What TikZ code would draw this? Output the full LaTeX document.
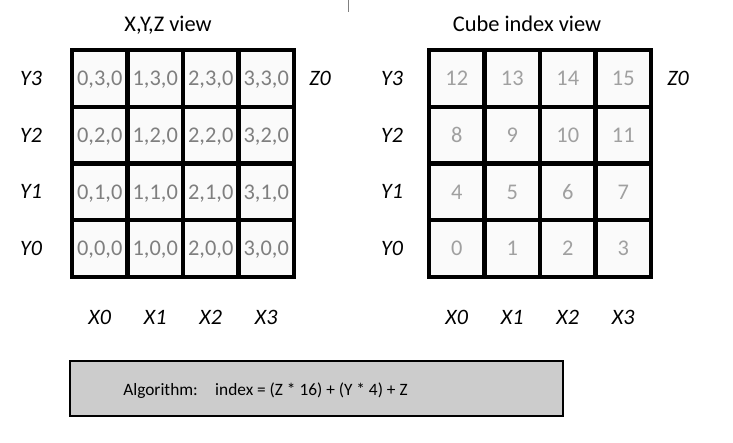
\documentclass[tikz,border=0pt]{standalone}
\usepackage{fontspec}
\setmainfont{Carlito}
\definecolor{coordgrey}{HTML}{7F7F7F}
\definecolor{idxgrey}{HTML}{A0A0A0}
\definecolor{boxgrey}{HTML}{CCCCCC}
\begin{document}
\begin{tikzpicture}[x=0.75pt, y=-0.75pt,
    cell/.style={draw, line width=3.2pt, fill=black!2, minimum width=41.6pt,
      minimum height=42.56pt, inner sep=0pt, text depth=0pt,
      font=\fontsize{16.8}{19}\selectfont},
    coord/.style={cell, text=coordgrey},
    idx/.style={cell, text=idxgrey},
    axis/.style={text depth=0pt, font=\fontsize{16.5}{19}\selectfont\itshape},
    title/.style={anchor=base, font=\fontsize{16.8}{19}\selectfont},
  ]
    \useasboundingbox (0,0) rectangle (733,443);
    \draw[gray, line width=0.75pt] (348,0) coordinate (tick) -- (348,12);

    % X,Y,Z view
    \node[title] (ttlxyz) at (168,31) {X,Y,Z view};
    \node[coord] (p03) at (99.75,78.375)  {0,3,0};
    \node[coord] (p13) at (155.25,78.375) {1,3,0};
    \node[coord] (p23) at (210.75,78.375) {2,3,0};
    \node[coord] (p33) at (266.25,78.375) {3,3,0};
    \node[coord] (p02) at (99.75,135.125)  {0,2,0};
    \node[coord] (p12) at (155.25,135.125) {1,2,0};
    \node[coord] (p22) at (210.75,135.125) {2,2,0};
    \node[coord] (p32) at (266.25,135.125) {3,2,0};
    \node[coord] (p01) at (99.75,191.875)  {0,1,0};
    \node[coord] (p11) at (155.25,191.875) {1,1,0};
    \node[coord] (p21) at (210.75,191.875) {2,1,0};
    \node[coord] (p31) at (266.25,191.875) {3,1,0};
    \node[coord] (p00) at (99.75,248.625)  {0,0,0};
    \node[coord] (p10) at (155.25,248.625) {1,0,0};
    \node[coord] (p20) at (210.75,248.625) {2,0,0};
    \node[coord] (p30) at (266.25,248.625) {3,0,0};

    \node[axis] (ly3) at (31,78.375)  {Y3};
    \node[axis] (ly2) at (31,135.125) {Y2};
    \node[axis] (ly1) at (31,191.875) {Y1};
    \node[axis] (ly0) at (31,248.625) {Y0};
    \node[axis] (lz0) at (320,78.375) {Z0};
    \node[axis] (lx0) at (99.75,317)  {X0};
    \node[axis] (lx1) at (155.25,317) {X1};
    \node[axis] (lx2) at (210.75,317) {X2};
    \node[axis] (lx3) at (266.25,317) {X3};

    % Cube index view
    \node[title] (ttlidx) at (527,31) {Cube index view};
    \node[idx] (c12) at (456.75,78.375) {12};
    \node[idx] (c13) at (512.25,78.375) {13};
    \node[idx] (c14) at (567.75,78.375) {14};
    \node[idx] (c15) at (623.25,78.375) {15};
    \node[idx] (c8)  at (456.75,135.125) {8};
    \node[idx] (c9)  at (512.25,135.125) {9};
    \node[idx] (c10) at (567.75,135.125) {10};
    \node[idx] (c11) at (623.25,135.125) {11};
    \node[idx] (c4)  at (456.75,191.875) {4};
    \node[idx] (c5)  at (512.25,191.875) {5};
    \node[idx] (c6)  at (567.75,191.875) {6};
    \node[idx] (c7)  at (623.25,191.875) {7};
    \node[idx] (c0)  at (456.75,248.625) {0};
    \node[idx] (c1)  at (512.25,248.625) {1};
    \node[idx] (c2)  at (567.75,248.625) {2};
    \node[idx] (c3)  at (623.25,248.625) {3};

    \node[axis] (ry3) at (392,78.375)  {Y3};
    \node[axis] (ry2) at (392,135.125) {Y2};
    \node[axis] (ry1) at (392,191.875) {Y1};
    \node[axis] (ry0) at (392,248.625) {Y0};
    \node[axis] (rz0) at (678,78.375) {Z0};
    \node[axis] (rx0) at (456.75,317) {X0};
    \node[axis] (rx1) at (512.25,317) {X1};
    \node[axis] (rx2) at (567.75,317) {X2};
    \node[axis] (rx3) at (623.25,317) {X3};

    % Algorithm
    \node[draw, fill=boxgrey, line width=0.9pt, minimum width=369.75pt,
      minimum height=41.25pt, inner sep=0pt] (algo) at (316.5,388.5) {};
    \node[anchor=base west, inner sep=0pt, font=\fontsize{13}{15}\selectfont]
      (algotext) at (123,395) {Algorithm:\quad index = (Z * 16) + (Y * 4) + Z};
  \end{tikzpicture}
\end{document}
